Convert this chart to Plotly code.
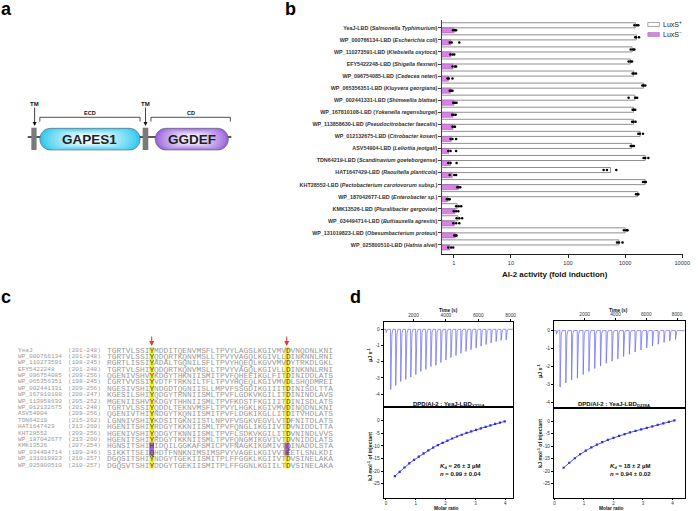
import plotly.graph_objects as go

W, H = 698, 511
SANS = "Liberation Sans, Arial, Helvetica, sans-serif"
MONO = "Liberation Mono, Courier New, monospace"


def px(x):
    return x / W


def py(y):
    return 1 - y / H


# ---------------- Panel b data ----------------
protein_ids = ["YeaJ", "WP_000766134", "WP_110273591", "EFY5422248", "WP_096754085",
               "WP_065356351", "WP_002441331", "WP_167810108", "WP_113858630", "WP_012132675",
               "ASV54904", "TDN64219", "HAT1647429", "KHT28552", "WP_187042677",
               "KMK13526", "WP_034494714", "WP_131019823", "WP_025800510"]
species = ["Salmonella Typhimurium", "Escherichia coli", "Klebsiella oxytoca", "Shigella flexneri",
           "Cedecea neteri", "Kluyvera georgiana", "Shimwellia blattae", "Yokenella regensburgei",
           "Pseudocitrobacter faecalis", "Citrobacter koseri", "Leliottia jeotgali",
           "Scandinavium goeteborgense", "Raoultella planticola", "Pectobacterium carotovorum subsp.",
           "Enterobacter sp.", "Pluralibacter gergoviae", "Buttiauxella agrestis",
           "Obesumbacterium proteus", "Hafnia alvei"]
luxs_pos = [1510, 1570, 1320, 1230, 1410, 2100, 1470, 1400, 1400, 1830,
            1300, 2240, 556, 2240, 1660, 1.15, 1.18, 1000, 775]
luxs_neg = [1.01, 0.89, 0.89, 0.97, 0.81, 0.89, 1.01, 0.97, 0.97, 0.91,
            0.82, 0.87, 0.94, 1.2, 0.79, 1.05, 1.03, 1.06, 0.85]
luxs_pos_reps = [[1450, 1600, 1700], [1500, 1550, 1750], [1250, 1380, 1450], [1150, 1250, 1320],
                 [1350, 1420, 1550], [2000, 2100, 2250], [1150, 1500, 1620], [1350, 1420, 1500],
                 [1320, 1400, 1520], [1700, 1800, 2050], [1250, 1320, 1420], [2100, 2250, 2550],
                 [420, 480, 700], [2050, 2200, 2300], [1550, 1650, 1700], [1.1, 1.22, 1.35],
                 [1.12, 1.25, 1.4], [950, 1050, 1100], [720, 780, 900]]
luxs_neg_reps = [[0.97, 1.05, 1.1], [0.85, 0.92, 1.25], [0.87, 0.95, 1.02], [0.95, 1.05, 1.1],
                 [0.78, 0.82, 0.95], [0.85, 0.9, 0.95], [0.98, 1.05, 1.12], [0.94, 1.0, 1.08],
                 [0.95, 1.02, 1.05], [0.88, 0.95, 1.1], [0.8, 0.88, 1.1], [0.8, 0.88, 1.12],
                 [0.85, 1.02, 1.1], [1.15, 1.22, 1.3], [0.76, 0.82, 0.85], [1.0, 1.1, 1.2],
                 [0.98, 1.1, 1.25], [1.02, 1.08, 1.12], [0.8, 0.9, 0.98]]
x_tick_vals = [1, 10, 100, 1000, 10000]
x_tick_text = ["1", "10", "100", "1000", "10000"]

# ---------------- Panel c data ----------------
aln_names = ["YeaJ", "WP_000766134", "WP_110273591", "EFY5422248", "WP_096754085",
             "WP_065356351", "WP_002441331", "WP_167810108", "WP_113858630", "WP_012132675",
             "ASV54904", "TDN64219", "HAT1647429", "KHT28552", "WP_187042677",
             "KMK13526", "WP_034494714", "WP_131019823", "WP_025800510"]
aln_ranges = ["(201-248)", "(201-248)", "(198-245)", "(201-248)", "(209-256)", "(198-245)",
              "(209-256)", "(200-247)", "(205-252)", "(201-248)", "(209-256)", "(215-262)",
              "(213-260)", "(209-256)", "(213-260)", "(207-254)", "(199-246)", "(210-257)",
              "(210-257)"]
aln_seqs = [
    "TGRTVLSSIYMDDITQENVMSFLTPVYLAGSLKGIVMVDVNQDNLKNI",
    "TGRTVLSSIYQDQRTKQNVMSLLTPVYVAGQLKGIVLLDINKNNLRNI",
    "RGRTLISSIYADALTGQNILSFLTPVYHQEQLKGVVMVDYTRKDLGKL",
    "TGRTVLSHIYQDQRTKQNVMSLLTPVYVAGQLKGIVLLDINKNNLRNI",
    "QGENIVSHVYKDGYTHKNIISMITPVFQHEEIKGLFITDINIDDLATS",
    "LGRTVVSSIYVDTFTRKNILTFLTPVYHQEQLKGIVMVDLSHQDMREI",
    "NGESIVSHIYNDGDTQGNIISLLMPVFSSGDIKGIIITDINISDLTTA",
    "KGESILSHIYQDGYTRNNIISMLTPVFLGDKVKGILITDININDLAVS",
    "MGENIISHVYKDGYTHHNIISMLTPVFKDSTFKGIIITDINISDLATS",
    "TGRTVLSSIYQDDLTEKNVMSFLTPVYLHGKLKGIVMVDINQDNLKNI",
    "QGENIVTHIYNDGYTKQNIISMITPVFLDGKIKGLLITDITVHDLATS",
    "LGNNIVSHIYKDSITGKNIISTLNPVFVSGKVEGVLVTDFNITDLATS",
    "HGENITSHIYRDGYTKKNIISMLTPVFQNGLIKGIIVTDVNIDDLTTA",
    "HGENIVSHIYQDGYTKNNIISMLTPVFLSDKVKGILITDVNINDLVVS",
    "HGENITSHIYRDGYTKKNIISMLTPVFQNGMIKGVIVTDVNIDDLATS",
    "HGNSITSHIHIDQILGGKAFSMICPVFNAGKIKGMIVTQINADDLSTA",
    "SIKKTTSEIQHDTFNNKNIMSIMSPVYVAGELKGIVVTEETLSNLKDI",
    "DGQSITSHIYNDGYTGEKIISMITPLFFGGKLKGIIVTDVSINELAKA",
    "DGQSVTSHIYDDGYTGEKIISMITPLFFGGNLKGIILTDVSINELAKA",
]
highlight_cols = [9, 38]
variant_rows = [15, 16]

# ---------------- Panel d data ----------------
left_inj_times = [300, 580, 890, 1200, 1510, 1820, 2130, 2440, 2750, 3060, 3370, 3680, 3990,
                  4300, 4610, 4920, 5230, 5540, 5850, 6160, 6470, 6780, 7090, 7400, 7710]
left_inj_peaks = [-0.2, -3.72, -3.46, -3.22, -3.1, -2.95, -2.8, -2.6, -2.48, -2.3, -2.22, -2.05,
                  -1.9, -1.75, -1.62, -1.48, -1.36, -1.26, -1.16, -1.04, -0.94, -0.84, -0.76,
                  -0.68, -0.66]
right_inj_times = [150, 390, 765, 1140, 1515, 1890, 2265, 2640, 3015, 3390, 3765, 4140, 4515,
                   4890, 5265, 5640, 6015, 6390, 6765, 7140, 7515, 7890]
right_inj_peaks = [-0.2, -3.15, -2.92, -2.75, -2.65, -2.45, -2.28, -2.12, -1.98, -1.82, -1.7,
                   -1.58, -1.45, -1.32, -1.2, -1.08, -0.97, -0.86, -0.76, -0.66, -0.58, -0.5]
left_ratio = [0.30, 0.46, 0.62, 0.78, 0.94, 1.10, 1.26, 1.42, 1.58, 1.74, 1.90, 2.06,
              2.22, 2.38, 2.54, 2.70, 2.86, 3.02, 3.18, 3.34, 3.50, 3.66, 3.82, 3.98]
left_heat = [-22.0, -20.3, -18.6, -17.0, -15.6, -14.3, -13.0, -11.8, -10.7, -9.7, -8.8, -7.9,
             -7.1, -6.3, -5.6, -4.9, -4.3, -3.7, -3.1, -2.5, -1.9, -1.3, -0.8, -0.3]
right_ratio = [0.31, 0.50, 0.69, 0.87, 1.06, 1.25, 1.44, 1.62, 1.81, 2.00, 2.19,
               2.38, 2.56, 2.75, 2.94, 3.13, 3.32, 3.50, 3.69, 3.88, 4.07]
right_heat = [-18.6, -16.6, -14.8, -13.2, -11.8, -10.5, -9.4, -8.4, -7.5, -6.7, -5.9,
              -5.2, -4.5, -3.9, -3.3, -2.7, -2.1, -1.5, -0.9, -0.3, 0.3]

# ---------------- figure ----------------
fig = go.Figure()

VIOLET = "#DA80E8"
fig.add_trace(go.Bar(y=protein_ids, x=luxs_pos, orientation="h", offsetgroup="pos",
                     marker=dict(color="white", line=dict(color="#8f8f8f", width=1)),
                     xaxis="x", yaxis="y", showlegend=False, hoverinfo="skip"))
fig.add_trace(go.Bar(y=protein_ids, x=luxs_neg, orientation="h", offsetgroup="neg",
                     marker=dict(color=VIOLET, line=dict(color="#9a6aa6", width=0.6)),
                     xaxis="x", yaxis="y", showlegend=False, hoverinfo="skip"))
for reps, grp in [(luxs_pos_reps, "pos"), (luxs_neg_reps, "neg")]:
    xs, ys = [], []
    for pid, r in zip(protein_ids, reps):
        for v in r:
            xs.append(v)
            ys.append(pid)
    fig.add_trace(go.Scatter(x=xs, y=ys, mode="markers", orientation="h", offsetgroup=grp,
                             marker=dict(size=2.5, color="black"), xaxis="x", yaxis="y",
                             showlegend=False, hoverinfo="skip"))


def thermogram(times, peaks, t_end):
    xs, ys = [times[0] - 150], [0]
    for t, d in zip(times, peaks):
        xs += [t, t + 12, t + 40, t + 85, t + 150]
        ys += [0, d, d * 0.35, d * 0.08, 0]
    xs.append(t_end)
    ys.append(0)
    return xs, ys


SPIKE = "#6464F2"
PTS = "#2B2BE6"
lx, ly = thermogram(left_inj_times, left_inj_peaks, 8150)
rx, ry = thermogram(right_inj_times, right_inj_peaks, 8500)
fig.add_trace(go.Scatter(x=lx, y=ly, mode="lines", line=dict(color=SPIKE, width=0.7),
                         xaxis="x2", yaxis="y2", showlegend=False, hoverinfo="skip"))
fig.add_trace(go.Scatter(x=left_ratio, y=left_heat, mode="lines+markers",
                         line=dict(color=PTS, width=0.8), marker=dict(symbol="square", size=2.2, color=PTS),
                         xaxis="x3", yaxis="y3", showlegend=False, hoverinfo="skip"))
fig.add_trace(go.Scatter(x=rx, y=ry, mode="lines", line=dict(color=SPIKE, width=0.7),
                         xaxis="x4", yaxis="y4", showlegend=False, hoverinfo="skip"))
fig.add_trace(go.Scatter(x=right_ratio, y=right_heat, mode="lines+markers",
                         line=dict(color=PTS, width=0.8), marker=dict(symbol="square", size=2.2, color=PTS),
                         xaxis="x5", yaxis="y5", showlegend=False, hoverinfo="skip"))

cat_labels = ["<b>%s-LBD (<i>%s</i>)</b>" % (p, s) for p, s in zip(protein_ids, species)]

itc_common = dict(showline=True, linecolor="black", linewidth=0.8, mirror=True, ticks="outside",
                  ticklen=2, tickwidth=0.6, tickcolor="black", showgrid=False, zeroline=False,
                  tickfont=dict(size=4.8, color="#333", family=SANS))


def itc_ax(**kw):
    d = dict(itc_common)
    d.update(kw)
    return d


heat_ticks = [0, -5, -10, -15, -20, -25]
pow_ticks = [0, -1, -2, -3, -4]
ratio_ticks = [0, 1, 2, 3, 4]

fig.update_layout(
    width=W, height=H, margin=dict(l=0, r=0, t=0, b=0),
    paper_bgcolor="white", plot_bgcolor="rgba(0,0,0,0)",
    barmode="group", bargap=0.16, scattermode="group", scattergap=0.16,
    font=dict(family=SANS),
    xaxis=dict(domain=[px(446), px(690)], anchor="y", type="log", range=[-0.2076, 4.014],
               tickvals=x_tick_vals, ticktext=x_tick_text, ticks="outside", ticklen=3,
               tickwidth=0.7, tickcolor="#222", showline=True, linecolor="#222", linewidth=0.8,
               showgrid=False, zeroline=False, tickfont=dict(size=5.6, color="#333")),
    yaxis=dict(domain=[py(254), py(20)], anchor="x", type="category", categoryorder="array",
               categoryarray=protein_ids, range=[18.75, -0.65], autorange=False,
               tickvals=protein_ids, ticktext=cat_labels, ticks="outside", ticklen=2.5,
               tickwidth=0.6, tickcolor="#444", showline=True, linecolor="#444", linewidth=0.8,
               showgrid=False, tickfont=dict(size=5.4, color="#333")),
    xaxis2=itc_ax(domain=[px(387), px(518)], anchor="y2", side="top", range=[150, 8150],
                  tickvals=[2000, 4000, 6000, 8000]),
    yaxis2=itc_ax(domain=[py(407), py(321.7)], anchor="x2", range=[-4.8, 0.47],
                  tickvals=pow_ticks, ticktext=[str(v) for v in pow_ticks]),
    xaxis3=itc_ax(domain=[px(387), px(518)], anchor="y3", range=[-0.08, 4.26],
                  tickvals=ratio_ticks, ticklen=1.5, tickfont=dict(size=4.5, color="#333")),
    yaxis3=itc_ax(domain=[py(497.5), py(407)], anchor="x3", range=[-30.5, 5.4],
                  tickvals=heat_ticks, ticktext=[str(v) for v in heat_ticks]),
    xaxis4=itc_ax(domain=[px(559.3), px(691.7)], anchor="y4", side="top", range=[0, 8500],
                  tickvals=[2000, 4000, 6000, 8000]),
    yaxis4=itc_ax(domain=[py(407.7), py(320.7)], anchor="x4", range=[-4.3, 0.55],
                  tickvals=pow_ticks, ticktext=[str(v) for v in pow_ticks]),
    xaxis5=itc_ax(domain=[px(559.3), px(691.7)], anchor="y5", range=[-0.02, 4.42],
                  tickvals=ratio_ticks, ticklen=1.5, tickfont=dict(size=4.5, color="#333")),
    yaxis5=itc_ax(domain=[py(497.5), py(407.7)], anchor="x5", range=[-30.5, 5.4],
                  tickvals=heat_ticks, ticktext=[str(v) for v in heat_ticks]),
)

shapes = []
annotations = []


def ann(x, y, text, size, xanchor="center", yanchor="middle", color="#111", family=SANS,
        angle=0):
    annotations.append(dict(x=px(x), y=py(y), xref="paper", yref="paper", text=text,
                            showarrow=False, xanchor=xanchor, yanchor=yanchor, borderpad=0,
                            borderwidth=0, textangle=angle,
                            font=dict(size=size, color=color, family=family)))


def rect(x0, y0, x1, y1, fill, line_color=None, lw=0):
    shapes.append(dict(type="rect", xref="paper", yref="paper", x0=px(x0), x1=px(x1),
                       y0=py(y1), y1=py(y0), fillcolor=fill,
                       line=dict(color=line_color or fill, width=lw)))


def pt(x, y):
    return "%.5f,%.5f" % (px(x), py(y))


def rrect_path(x0, y0, x1, y1, r):
    k = 0.5523 * r
    return ("M" + pt(x0 + r, y0) + " L" + pt(x1 - r, y0) +
            " C" + pt(x1 - r + k, y0) + " " + pt(x1, y0 + r - k) + " " + pt(x1, y0 + r) +
            " L" + pt(x1, y1 - r) +
            " C" + pt(x1, y1 - r + k) + " " + pt(x1 - r + k, y1) + " " + pt(x1 - r, y1) +
            " L" + pt(x0 + r, y1) +
            " C" + pt(x0 + r - k, y1) + " " + pt(x0, y1 - r + k) + " " + pt(x0, y1 - r) +
            " L" + pt(x0, y0 + r) +
            " C" + pt(x0, y0 + r - k) + " " + pt(x0 + r - k, y0) + " " + pt(x0 + r, y0) + " Z")


def lerp_color(c1, c2, t):
    a = [int(c1[i:i + 2], 16) for i in (1, 3, 5)]
    b = [int(c2[i:i + 2], 16) for i in (1, 3, 5)]
    return "#%02x%02x%02x" % tuple(int(round(a[i] + (b[i] - a[i]) * t)) for i in range(3))


def capsule(x0, y0, x1, y1, edge, center, n=12):
    w, h = x1 - x0, y1 - y0
    for j in range(n):
        t = j / (n - 1)
        ix, iy = t * 0.40 * w, t * 0.30 * h
        r = (h - 2 * iy) / 2
        shapes.append(dict(type="path", xref="paper", yref="paper",
                           path=rrect_path(x0 + ix, y0 + iy, x1 - ix, y1 - iy, r),
                           fillcolor=lerp_color(edge, center, t ** 0.8),
                           line=dict(width=0.6 if j == 0 else 0, color="#556")))


def line(x0, y0, x1, y1, color="black", w=1):
    shapes.append(dict(type="line", xref="paper", yref="paper", x0=px(x0), y0=py(y0),
                       x1=px(x1), y1=py(y1), line=dict(color=color, width=w)))


def arrow(x_head, y_head, length, color, text="", size=6, width=0.8):
    annotations.append(dict(x=px(x_head), y=py(y_head), xref="paper", yref="paper",
                            ax=0, ay=-length, text=text, showarrow=True, arrowhead=2,
                            arrowsize=1, arrowwidth=width, arrowcolor=color, borderpad=0,
                            font=dict(size=size, color="#111", family=SANS)))


# ---------------- Panel a ----------------
line(27, 137, 233, 137, "#222", 1.4)
rect(30.7, 127.7, 36, 150, "#7a7a7a")
rect(143.3, 127.7, 149, 150, "#7a7a7a")
capsule(39.3, 128.3, 140.7, 150, "#35CBF0", "#EEFBFF")
capsule(156, 128.3, 230, 150, "#9A68DC", "#F2EAFC")
ann(90, 139.3, "<b>GAPES1</b>", 13.5, color="#222")
ann(193, 139.3, "<b>GGDEF</b>", 13.5, color="#222")
arrow(34, 126, 22, "#111", "<b>TM</b>", 6)
arrow(146.2, 126, 22, "#111", "<b>TM</b>", 6)
for bx0, bx1, lab in [(39.3, 140.7, "ECD"), (151.7, 232, "CD")]:
    shapes.append(dict(type="path", xref="paper", yref="paper",
                       path="M" + pt(bx0, 121.5) + " L" + pt(bx0, 117.3) + " L" + pt(bx1, 117.3) +
                            " L" + pt(bx1, 121.5),
                       line=dict(color="#222", width=0.8)))
    ann((bx0 + bx1) / 2, 113.2, "<b>%s</b>" % lab, 5.5)

# ---------------- Panel b legend & title ----------------
rect(654.3, 22.5, 666, 26.5, "white", "#8f8f8f", 0.8)
rect(654.3, 32.5, 666, 36.5, VIOLET, "#9a6aa6", 0.5)
ann(670, 24.5, "LuxS<sup>+</sup>", 7, xanchor="left", color="#222")
ann(670, 34.5, "LuxS<sup>\u2212</sup>", 7, xanchor="left", color="#222")
ann(560, 274, "<b>AI-2 activity (fold induction)</b>", 8, color="#111")

# ---------------- Panel c ----------------
CW = 4.71
SX = 107.7
SEQ_GREY = "#9a9a9a"
row_y = [350 + 6.39 * i for i in range(len(aln_seqs))]
for c in highlight_cols:
    rect(SX + c * CW, 347, SX + (c + 1) * CW, 468.5, "#F7F01E")
    arrow(SX + (c + 0.5) * CW, 346, 10, "#E4343C", "", 5, 1)
for r in variant_rows:
    for c in highlight_cols:
        rect(SX + c * CW, row_y[r] - 3.2, SX + (c + 1) * CW, row_y[r] + 3.2, "#A85FE0")
for i, (nm, rg, seq) in enumerate(zip(aln_names, aln_ranges, aln_seqs)):
    ann(16.7, row_y[i], nm, 6.1, xanchor="left", color=SEQ_GREY, family=MONO)
    ann(67.5, row_y[i], rg, 6.1, xanchor="left", color=SEQ_GREY, family=MONO)
    parts = []
    for j, ch in enumerate(seq):
        if j in highlight_cols:
            parts.append('<span style="color:#444">%s</span>' % ch)
        else:
            parts.append(ch)
    ann(SX, row_y[i], "".join(parts), 7.85, xanchor="left", color=SEQ_GREY, family=MONO)

# ---------------- Panel d text ----------------
for cx, x_lab_y, ttl, kd, nval, kx, tx, ylx, yly1, yly2 in [
        (453, 310, "Y210A", "26 \u00b1 3", "0.99 \u00b1 0.04", 444, 453, 373, 355, 456),
        (625, 310, "D239A", "18 \u00b1 2", "0.94 \u00b1 0.02", 616, 620, 545, 371, 443)]:
    ann(cx, x_lab_y, "<b>Time (s)</b>", 4.8)
    ann(tx, 404, "<b>DPD/AI-2 : YeaJ-LBD<sub>%s</sub></b>" % ttl, 6)
    ann(kx, 466.3, "<b><i>K</i><sub>d</sub> = %s \u00b5M</b>" % kd, 6, xanchor="left")
    ann(kx, 473.8, "<b><i>n</i> = %s</b>" % nval, 6, xanchor="left")
    ann(ylx, yly1, "<b>\u00b5J s<sup>-1</sup></b>", 5.2, angle=-90)
    ann(ylx, yly2, "<b>kJ mol<sup>-1</sup> of injectant</b>", 5.2, angle=-90)
    ann(tx - 2, 508, "<b>Molar ratio</b>", 4.8)

# ---------------- Panel letters ----------------
ann(0, 9, "<b>a</b>", 18, xanchor="left", color="#000")
ann(287, 9, "<b>b</b>", 18, xanchor="left", color="#000")
ann(0, 296.5, "<b>c</b>", 18, xanchor="left", color="#000")
ann(353, 296.5, "<b>d</b>", 18, xanchor="left", color="#000")

fig.update_layout(shapes=shapes, annotations=annotations)
fig.write_html("out.html", config={"displayModeBar": False},
               post_script="document.body.style.margin='0';document.body.style.padding='0';"
                           "document.body.style.overflow='hidden';")
